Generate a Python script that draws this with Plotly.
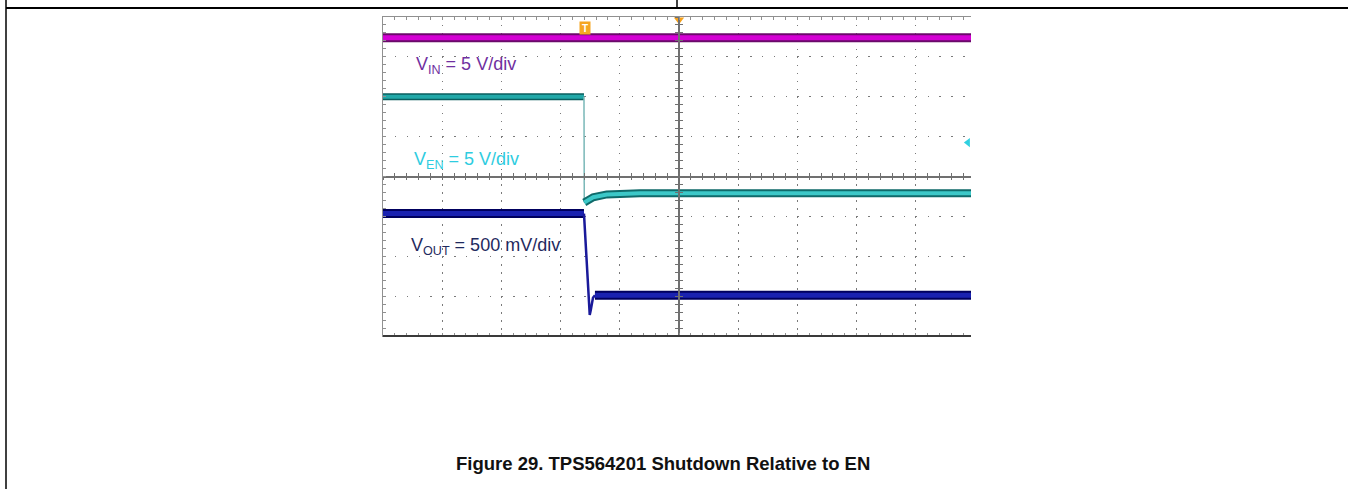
import plotly.graph_objects as go

W, H = 1348, 489

# ---------------- data (scope divisions: x = time div, y = vertical div) ----------------
vin_t = [-5.0, 5.0]
vin_v = [3.48, 3.48]

ven_t = [-5.0, -1.605, -1.600, -1.53, -1.45, -1.22, -0.66, 5.0]
ven_v = [2.00, 2.00, -0.65, -0.58, -0.52, -0.45, -0.42, -0.42]

vout_t = [-5.0, -1.605, -1.565, -1.525, -1.508, -1.49, -1.453, -1.42, 5.0]
vout_v = [-0.93, -0.93, -1.91, -3.17, -3.47, -3.35, -3.04, -2.98, -2.98]

trig_t, trig_v = [-1.596], [3.73]          # trigger position marker
trig_lvl_t, trig_lvl_v = [0.0], [3.93]     # horizontal trigger point marker
en_ref_t, en_ref_v = [4.88], [0.85]        # channel reference marker

labels = ["V<sub>IN</sub> = 5 V/div", "V<sub>EN</sub> = 5 V/div", "V<sub>OUT</sub> = 500 mV/div"]
label_t = [-4.47, -4.51, -4.56]
label_v = [2.78, 0.40, -1.76]
label_colors = ["#7030a0", "#2ecce0", "#1f2a5e"]

caption = "Figure 29. TPS564201 Shutdown Relative to EN"

# ---------------- layout geometry ----------------
px_left, px_right, px_top, px_bottom = 383, 971, 17, 336
px_cx, px_cy = 679, 176.7
div_x = (px_cx - px_left) / 5.0
xr = [-5.0, (px_right - px_cx) / div_x]
yr = [-4.0, 4.0]

FONT = "Arial, Liberation Sans, sans-serif"

fig = go.Figure()


def band(t, v, i0, i1, edge, center, we, wc, xa="x", ya="y"):
    fig.add_trace(go.Scatter(x=t[i0:i1], y=v[i0:i1], mode="lines", xaxis=xa, yaxis=ya,
                             line=dict(color=edge, width=we), showlegend=False, hoverinfo="skip"))
    fig.add_trace(go.Scatter(x=t[i0:i1], y=v[i0:i1], mode="lines", xaxis=xa, yaxis=ya,
                             line=dict(color=center, width=wc), showlegend=False, hoverinfo="skip"))


# dummy traces to make overlay axes render
for xa, ya in [("x2", "y"), ("x3", "y"), ("x", "y2"), ("x", "y3")]:
    fig.add_trace(go.Scatter(x=[None], y=[None], xaxis=xa, yaxis=ya, showlegend=False, hoverinfo="skip"))

# VIN
band(vin_t, vin_v, 0, len(vin_t), "#6a0a6a", "#d400d4", 9, 5)
# VEN
band(ven_t, ven_v, 0, 2, "#0a5e5e", "#22a8a8", 7, 4)
fig.add_trace(go.Scatter(x=ven_t[1:3], y=ven_v[1:3], mode="lines",
                         line=dict(color="#7ab8b8", width=1.5), showlegend=False, hoverinfo="skip"))
band(ven_t, ven_v, 2, len(ven_t), "#0f6a6a", "#3cc8c8", 8, 4)
# VOUT
band(vout_t, vout_v, 0, 2, "#00005e", "#1a22b0", 9, 5)
fig.add_trace(go.Scatter(x=vout_t[1:8], y=vout_v[1:8], mode="lines",
                         line=dict(color="#1a1a9a", width=2.5), showlegend=False, hoverinfo="skip"))
band(vout_t, vout_v, 7, len(vout_t), "#00005e", "#1a22b0", 9, 5)

# markers
fig.add_trace(go.Scatter(x=trig_lvl_t, y=trig_lvl_v, mode="markers", cliponaxis=False,
                         marker=dict(symbol="triangle-down", size=9, color="#f5a01a"),
                         showlegend=False, hoverinfo="skip"))
fig.add_trace(go.Scatter(x=en_ref_t, y=en_ref_v, mode="markers", cliponaxis=False,
                         marker=dict(symbol="triangle-left", size=8, color="#30d0e0"),
                         showlegend=False, hoverinfo="skip"))

annotations = []
annotations.append(dict(x=trig_t[0], y=trig_v[0], xref="x", yref="y", text="<b>T</b>",
                        showarrow=False, bgcolor="#f5a623", font=dict(family=FONT, size=10, color="white"),
                        borderpad=0, width=10, height=12))
for txt, t, v, c in zip(labels, label_t, label_v, label_colors):
    annotations.append(dict(x=t, y=v, xref="x", yref="y", text=txt, showarrow=False,
                            xanchor="left", yanchor="middle", font=dict(family=FONT, size=18, color=c)))
annotations.append(dict(x=662.5 / W, y=1 - 463 / H, xref="paper", yref="paper",
                        text="<b>" + caption + "</b>", showarrow=False, xanchor="center", yanchor="middle",
                        font=dict(family=FONT, size=18.5, color="#111111")))

grid_col = "#7a7a7a"
dot_x = div_x / 5.0
dot_y = (px_bottom - px_top) / 8.0 / 5.0

common_hidden = dict(showticklabels=False, fixedrange=True, zeroline=False)

xaxis = dict(domain=[px_left / W, px_right / W], range=xr, dtick=1, tick0=0,
             showgrid=True, gridcolor=grid_col, gridwidth=1,
             griddash=f"1.5px,{dot_y - 1.5:.3f}px",
             showline=True, linecolor="#909090", linewidth=1, mirror="ticks",
             ticks="inside", ticklen=3, tickcolor="#909090",
             minor=dict(dtick=0.2, tick0=0, ticks="inside", ticklen=3, tickcolor="#909090", showgrid=False),
             **common_hidden)
yaxis = dict(domain=[1 - px_bottom / H, 1 - px_top / H], range=yr, dtick=1, tick0=0,
             showgrid=True, gridcolor=grid_col, gridwidth=1,
             griddash=f"1.5px,{dot_x - 1.5:.3f}px",
             showline=True, linecolor="#909090", linewidth=1, mirror=False,
             ticks="inside", ticklen=3, tickcolor="#909090",
             minor=dict(dtick=0.2, tick0=0, ticks="inside", ticklen=3, tickcolor="#909090", showgrid=False),
             **common_hidden)

cen_col = "#707070"


def center_x(tickdir):
    return dict(overlaying="x", anchor="free", position=1 - px_cy / H, range=xr,
                showgrid=False, showline=True, linecolor=cen_col, linewidth=1.5,
                ticks=tickdir, ticklen=3, tickcolor=cen_col, dtick=1, tick0=0,
                minor=dict(dtick=0.2, tick0=0, ticks=tickdir, ticklen=3, tickcolor=cen_col, showgrid=False),
                **common_hidden)


def center_y(tickdir):
    return dict(overlaying="y", anchor="free", position=px_cx / W, range=yr,
                showgrid=False, showline=True, linecolor=cen_col, linewidth=1.5,
                ticks=tickdir, ticklen=3, tickcolor=cen_col, dtick=1, tick0=0,
                minor=dict(dtick=0.2, tick0=0, ticks=tickdir, ticklen=3, tickcolor=cen_col, showgrid=False),
                **common_hidden)


shapes = [
    # page frame
    dict(type="line", xref="paper", yref="paper", x0=6 / W, x1=6 / W, y0=0, y1=1,
         line=dict(color="black", width=1.5)),
    dict(type="line", xref="paper", yref="paper", x0=6 / W, x1=1, y0=1 - 8 / H, y1=1 - 8 / H,
         line=dict(color="black", width=2)),
    dict(type="line", xref="paper", yref="paper", x0=677 / W, x1=677 / W, y0=1 - 8 / H, y1=1,
         line=dict(color="black", width=1.5)),
    # darker bottom edge of the screen
    dict(type="line", xref="x domain", yref="y domain", x0=0, x1=1, y0=0, y1=0,
         line=dict(color="#3a3a3a", width=2)),
]

fig.update_layout(
    width=W, height=H, margin=dict(l=0, r=0, t=0, b=0),
    paper_bgcolor="white", plot_bgcolor="white", showlegend=False,
    xaxis=xaxis, yaxis=yaxis,
    xaxis2=center_x("inside"), xaxis3=center_x("outside"),
    yaxis2=center_y("inside"), yaxis3=center_y("outside"),
    annotations=annotations, shapes=shapes,
    font=dict(family=FONT),
)

fig.write_html("out.html", config={"displayModeBar": False},
               post_script="document.body.style.margin='0';document.body.style.overflow='hidden';")
